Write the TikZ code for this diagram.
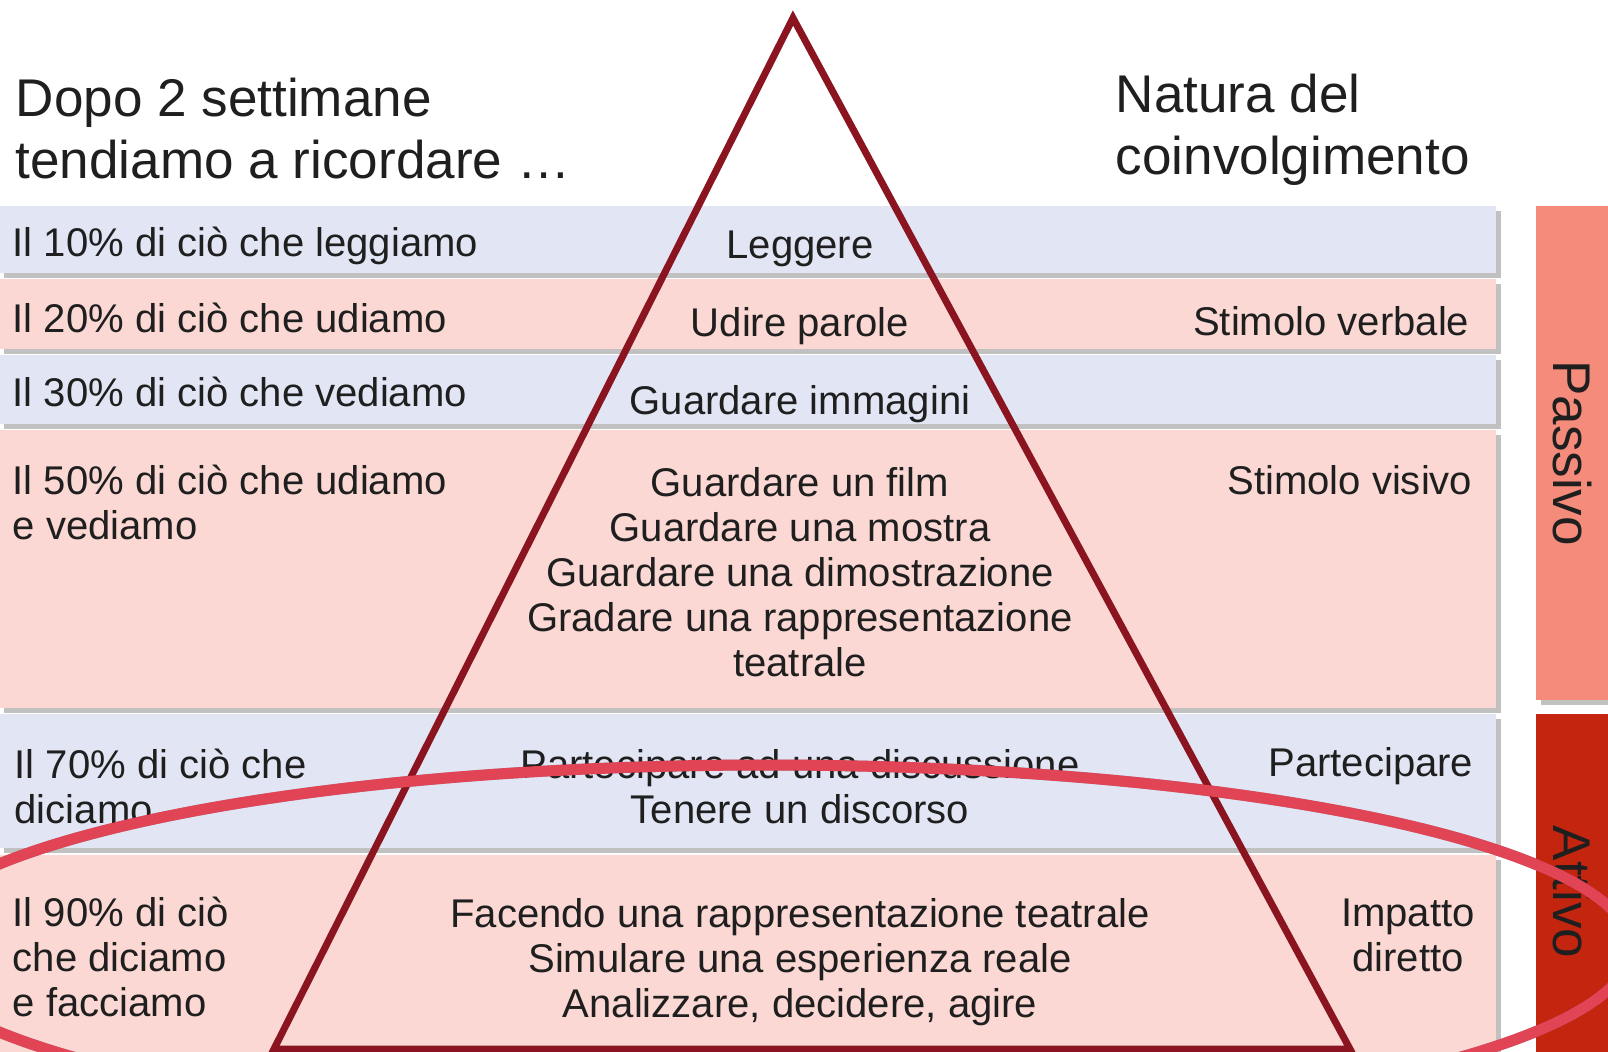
\documentclass[tikz,border=0pt]{standalone}
\usepackage{fontspec}
\setmainfont{Liberation Sans}
\usepackage{tikz}
\usetikzlibrary{shadows}
\definecolor{lav}{HTML}{E2E6F4}
\definecolor{rosa}{HTML}{FBD8D3}
\definecolor{passivo}{HTML}{F58B7B}
\definecolor{attivo}{HTML}{C3250F}
\definecolor{piramide}{HTML}{8A1420}
\definecolor{anello}{HTML}{E04455}
\definecolor{testo}{HTML}{1F1F1F}
\tikzset{
  fascia/.style={drop shadow={shadow xshift=0.45mm, shadow yshift=-0.45mm, opacity=.35, fill=black!70}},
  voce/.style={font=\fontsize{11.4}{12.8}\selectfont, text=testo, inner sep=0pt},
  titolo/.style={font=\fontsize{15.1}{17.5}\selectfont, text=testo, inner sep=0pt, align=left, anchor=base west}
}

\begin{document}
\begin{tikzpicture}[x=0.1mm, y=-0.1mm]
            \useasboundingbox (0,0) rectangle (1608,1052);
            \foreach \t/\b/\c in {206/273/lav, 279/349/rosa, 355/424/lav, 430/708/rosa, 714/848/lav, 855/1080/rosa}
                \fill[\c, fascia] (0,\t) rectangle (1496,\b);
            \fill[passivo, fascia] (1536,206) rectangle (1620,700);
            \fill[attivo, fascia] (1536,714) rectangle (1620,1080);

            % multi-line nodes: anchor base sits on the last line
            \node[titolo] (dopo) at (15,178) {Dopo 2 settimane\\tendiamo a ricordare \dots};
            \node[titolo] (natura) at (1115,174) {Natura del\\coinvolgimento};
            \node[voce, font=\fontsize{15.1}{17.5}\selectfont, rotate=-90] (pas) at (1572,453) {Passivo};
            \node[voce, font=\fontsize{15.1}{17.5}\selectfont, rotate=-90] (att) at (1572,892) {Attivo};

            \begin{scope}[every node/.style={voce, anchor=base west, align=left}]
                \node (p10) at (12,256) {Il 10\% di ciò che leggiamo};
                \node (p20) at (12,332) {Il 20\% di ciò che udiamo};
                \node (p30) at (12,406) {Il 30\% di ciò che vediamo};
                \node (p50) at (12,539) {Il 50\% di ciò che udiamo\\e vediamo};
                \node (p70) at (14,823) {Il 70\% di ciò che\\diciamo};
                \node (p90) at (12,1016) {Il 90\% di ciò\\che diciamo\\e facciamo};
            \end{scope}
            \begin{scope}[every node/.style={voce, anchor=base, align=center}]
                \node (a10) at (800,258) {Leggere};
                \node (a20) at (800,336) {Udire parole};
                \node (a30) at (800,414) {Guardare immagini};
                \node (a50) at (800,676) {Guardare un film\\Guardare una mostra\\Guardare una dimostrazione\\Gradare una rappresentazione\\teatrale};
                \node (a70) at (800,823) {Partecipare ad una discussione\\Tenere un discorso};
                \node (a90) at (800,1017) {Facendo una rappresentazione teatrale\\Simulare una esperienza reale\\Analizzare, decidere, agire};
                \node (n90) at (1408,971) {Impatto\\diretto};
            \end{scope}
            \begin{scope}[every node/.style={voce, anchor=base east}]
                \node (n20) at (1470,335) {Stimolo verbale};
                \node (n50) at (1473,494) {Stimolo visivo};
                \node (n70) at (1474,776) {Partecipare};
            \end{scope}

            \coordinate (apice) at (793,18); \coordinate (bs) at (274,1049); \coordinate (bd) at (1350,1049);
            \draw[piramide, line width=0.7mm] (apice) -- (bs) -- (bd) -- cycle;

            \coordinate (centro) at (767,948);
            \draw[black, opacity=.3, line width=1.1mm, shift={(2,7)}] (centro) ellipse [x radius=864, y radius=183];
            \draw[anello, line width=1.1mm] (centro) ellipse [x radius=864, y radius=183];
\end{tikzpicture}
\end{document}
